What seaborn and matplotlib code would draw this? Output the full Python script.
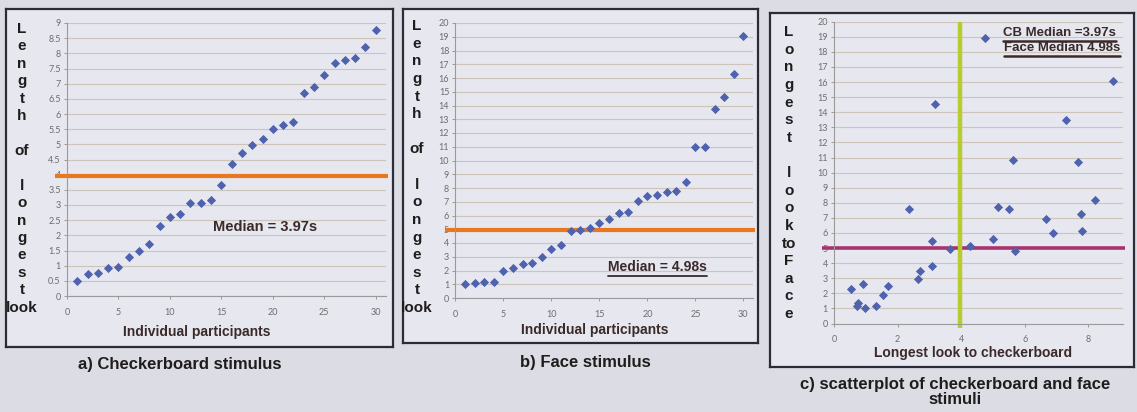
import matplotlib
matplotlib.use("Agg")
import matplotlib.pyplot as plt
import matplotlib.transforms as mtransforms
from matplotlib import font_manager
from matplotlib.lines import Line2D
import seaborn as sns

# ---------------------------------------------------------------- data
participants = list(range(1, 31))

# longest look (s) per participant, sorted ascending
checkerboard_looks = [0.51, 0.73, 0.75, 0.91, 0.97, 1.30, 1.50, 1.71, 2.32, 2.60,
                      2.71, 3.05, 3.08, 3.17, 3.65, 4.35, 4.73, 4.98, 5.18, 5.50,
                      5.65, 5.73, 6.70, 6.89, 7.29, 7.68, 7.79, 7.84, 8.20, 8.78]
face_looks = [1.01, 1.08, 1.13, 1.17, 1.94, 2.16, 2.45, 2.57, 3.00, 3.53,
              3.88, 4.84, 4.92, 5.11, 5.49, 5.71, 6.16, 6.28, 7.03, 7.43,
              7.48, 7.70, 7.79, 8.42, 10.98, 10.98, 13.72, 14.62, 16.30, 19.03]

# paired values per participant (checkerboard, face)
pair_checkerboard = [0.52, 0.71, 0.77, 0.92, 0.98, 1.32, 1.53, 1.71, 2.37, 2.64,
                     2.72, 3.07, 3.09, 3.19, 3.66, 4.29, 4.76, 5.01, 5.17, 5.51,
                     5.63, 5.70, 6.68, 6.89, 7.31, 7.68, 7.76, 7.80, 8.20, 8.77]
pair_face = [2.26, 1.19, 1.33, 2.59, 1.04, 1.15, 1.92, 2.48, 7.57, 2.96,
             3.45, 5.46, 3.78, 14.54, 4.96, 5.11, 18.90, 5.58, 7.72, 7.59,
             10.82, 4.78, 6.95, 5.97, 13.48, 10.73, 7.28, 6.11, 8.19, 16.07]

checkerboard_median = 3.97
face_median = 4.98

participant_xticks = [0, 5, 10, 15, 20, 25, 30]
checker_yticks = [0, 0.5, 1, 1.5, 2, 2.5, 3, 3.5, 4, 4.5, 5, 5.5, 6, 6.5, 7, 7.5, 8, 8.5, 9]
checker_yticklabels = ["0", "0.5", "1", "1.5", "2", "2.5", "3", "3.5", "4", "4.5",
                       "5", "5.5", "6", "6.5", "7", "7.5", "8", "8.5", "9"]
face_yticks = [0, 1, 2, 3, 4, 5, 6, 7, 8, 9, 10, 11, 12, 13, 14, 15, 16, 17, 18, 19, 20]
scatter_xticks = [0, 2, 4, 6, 8]

length_label = ["L", "e", "n", "g", "t", "h", "", "of", "", "l", "o", "n", "g", "e", "s", "t", "look"]
face_label = ["L", "o", "n", "g", "e", "s", "t", "", "l", "o", "o", "k", "to", "F", "a", "c", "e"]

captions = ["a) Checkerboard stimulus", "b) Face stimulus",
            "c) scatterplot of checkerboard and face\nstimuli"]

# ---------------------------------------------------------------- style
sns.set_theme(style="white")
plt.rcParams["font.family"] = ["Liberation Sans", "DejaVu Sans"]

_names = {f.name for f in font_manager.fontManager.ttflist}
NARROW = "Liberation Sans Narrow" if "Liberation Sans Narrow" in _names else "Liberation Sans"
TICKFONT = "Lato" if "Lato" in _names else "DejaVu Sans"

PAGE = "#dcdde4"
PANEL = "#e6e7ef"
FRAME = "#2c2c36"
GRID = "#cdc4ba"
AXIS = "#9a9a9a"
TICK = "#6e6e6e"
DARK = "#1f1c1c"
BLUE = "#4f62ad"
ORANGE = "#e8771f"
GREEN = "#b8cc2e"
MAGENTA = "#a8336f"
NOTE = "#3a2a2a"

W, H = 1137, 412
fig = plt.figure(figsize=(W / 100, H / 100), dpi=100, facecolor=PAGE)


def fbox(x0, y0, x1, y1):
    return [x0 / W, 1 - y1 / H, (x1 - x0) / W, (y1 - y0) / H]


# panel frames
for fr in [(6, 9, 393, 347), (403, 9, 758, 343), (770, 13, 1134, 367)]:
    fa = fig.add_axes(fbox(*fr), zorder=0)
    fa.set_facecolor(PANEL)
    fa.set_xticks([])
    fa.set_yticks([])
    for sp in fa.spines.values():
        sp.set_color(FRAME)
        sp.set_linewidth(1.6)


def style_axes(ax, xlim, ylim, xticks, yticks, yticklabels):
    ax.patch.set_alpha(0)
    ax.set_xlim(*xlim)
    ax.set_ylim(*ylim)
    ax.set_xticks(xticks)
    ax.set_yticks(yticks)
    ax.set_yticklabels(yticklabels)
    ax.grid(axis="y", color=GRID, lw=0.8)
    ax.grid(axis="x", visible=False)
    ax.set_axisbelow(True)
    for s in ["top", "right"]:
        ax.spines[s].set_visible(False)
    for s in ["left", "bottom"]:
        ax.spines[s].set_color(AXIS)
        ax.spines[s].set_linewidth(0.8)
    ax.tick_params(axis="both", left=True, bottom=True, colors=AXIS, labelcolor=TICK,
                   labelsize=6.5, length=2.5, width=0.7, direction="out")
    ax.tick_params(axis="y", pad=2)
    ax.tick_params(axis="x", pad=6)
    for lbl in ax.get_xticklabels() + ax.get_yticklabels():
        lbl.set_fontfamily(TICKFONT)
    ax.set_xlabel("")
    ax.set_ylabel("")


def hline(ax, y, x0, x1, color, lw):
    trans = mtransforms.blended_transform_factory(ax.transAxes, ax.transData)
    ax.plot([x0, x1], [y, y], transform=trans, color=color, lw=lw,
            clip_on=False, zorder=2, solid_capstyle="butt")


MARKER_SIZE = 22

# ---------------------------------------------------------------- panel a
ax_a = fig.add_axes(fbox(67, 23, 386, 296), zorder=1)
sns.scatterplot(x=participants, y=checkerboard_looks, ax=ax_a, marker="D", s=MARKER_SIZE,
                color=BLUE, linewidth=0, zorder=3, legend=False)
style_axes(ax_a, (0, 31), (0, 9), participant_xticks, checker_yticks, checker_yticklabels)
hline(ax_a, checkerboard_median, -0.038, 1.006, ORANGE, 3.0)
ax_a.text(14.2, 2.27, f"Median = {checkerboard_median:.2f}s", fontsize=10.5,
          fontweight="bold", color=NOTE, ha="left", va="center")

# ---------------------------------------------------------------- panel b
ax_b = fig.add_axes(fbox(455.4, 23, 753, 298), zorder=1)
sns.scatterplot(x=participants, y=face_looks, ax=ax_b, marker="D", s=MARKER_SIZE,
                color=BLUE, linewidth=0, zorder=3, legend=False)
style_axes(ax_b, (0, 31), (0, 20), participant_xticks, face_yticks,
           [str(t) for t in face_yticks])
hline(ax_b, face_median, -0.035, 1.007, ORANGE, 3.0)
note_b = ax_b.text(15.9, 2.25, f"Median = {face_median:.2f}s", fontsize=10,
                   fontweight="bold", color=NOTE, ha="left", va="center")

# ---------------------------------------------------------------- panel c
ax_c = fig.add_axes(fbox(834, 21.7, 1123, 323.5), zorder=1)
sns.scatterplot(x=pair_checkerboard, y=pair_face, ax=ax_c, marker="D", s=MARKER_SIZE,
                color=BLUE, linewidth=0, zorder=3, legend=False)
style_axes(ax_c, (0, 9.09), (0, 20), scatter_xticks, face_yticks,
           [str(t) for t in face_yticks])
hline(ax_c, face_median, -0.042, 1.007, MAGENTA, 2.6)
ax_c.plot([checkerboard_median, checkerboard_median], [-0.3, 20], color=GREEN,
          lw=3.2, clip_on=False, zorder=2, solid_capstyle="butt")
note_c1 = ax_c.text(0.585, 0.962, f"CB Median ={checkerboard_median:.2f}s", transform=ax_c.transAxes,
                    fontsize=9.5, fontweight="bold", color=NOTE, ha="left", va="center")
note_c2 = ax_c.text(0.588, 0.912, f"Face Median {face_median:.2f}s", transform=ax_c.transAxes,
                    fontsize=9.5, fontweight="bold", color=NOTE, ha="left", va="center")

# ---------------------------------------------------------------- labels
for x, y, lines, ls in [(22, 22, length_label, 1.31), (417, 19, length_label, 1.33),
                        (789, 25, face_label, 1.33)]:
    fig.text(x / W, 1 - y / H, "\n".join(lines), ha="center", va="top", multialignment="center",
             fontsize=11, fontweight="bold", linespacing=ls, color=DARK)

fig.text(197 / W, 1 - 332 / H, "Individual participants", ha="center", va="center",
         fontsize=10, fontweight="bold", color=NOTE)
fig.text(595 / W, 1 - 330 / H, "Individual participants", ha="center", va="center",
         fontsize=10, fontweight="bold", color=NOTE)
fig.text(973 / W, 1 - 353 / H, "Longest look to checkerboard", ha="center", va="center",
         fontsize=10, fontweight="bold", color=NOTE)

for x, y, txt in [(180, 365, captions[0]), (585, 362, captions[1]), (955, 392, captions[2])]:
    fig.text(x / W, 1 - y / H, txt, ha="center", va="center", multialignment="center",
             fontsize=12, fontweight="bold", family=[NARROW, "DejaVu Sans"], color=DARK,
             linespacing=1.0)

# underline the median notes in panels b and c
fig.canvas.draw()
renderer = fig.canvas.get_renderer()
inv = fig.transFigure.inverted()
for t, lw in [(note_b, 1.3), (note_c1, 1.8), (note_c2, 1.8)]:
    bb = t.get_window_extent(renderer).transformed(inv)
    yy = bb.y0 - 1.5 / H
    fig.add_artist(Line2D([bb.x0, bb.x1], [yy, yy], transform=fig.transFigure,
                          color=NOTE, lw=lw))

fig.savefig("out.png", dpi=100, facecolor=PAGE)
